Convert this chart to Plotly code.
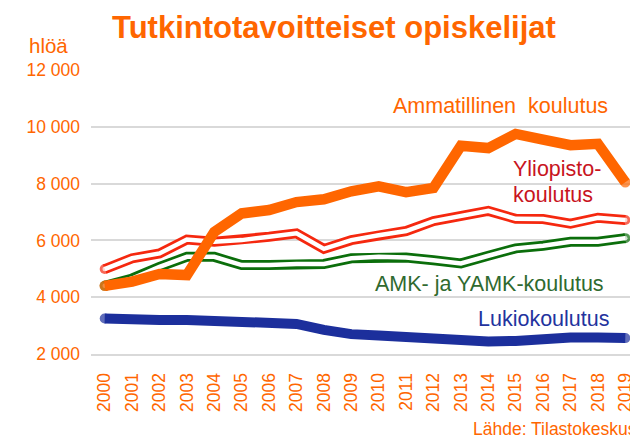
import plotly.graph_objects as go

years = [str(y) for y in range(2000, 2020)]
ammatillinen = [4400, 4550, 4820, 4780, 6300, 6950, 7070, 7350, 7450, 7730,
                7900, 7700, 7850, 9330, 9250, 9750, 9550, 9350, 9400, 8050]
yliopisto = [4990, 5370, 5540, 6030, 5950, 6010, 6130, 6250, 5700, 6010,
             6180, 6330, 6680, 6860, 7040, 6760, 6750, 6590, 6800, 6720]
amk = [4400, 4660, 5070, 5420, 5420, 5130, 5130, 5170, 5170, 5370,
       5420, 5400, 5300, 5190, 5460, 5720, 5810, 5950, 5950, 6080]
lukio = [3250, 3200, 3200, 3200, 3180, 3150, 3120, 3060, 2850, 2700,
         2650, 2580, 2500, 2490, 2440, 2460, 2540, 2580, 2580, 2560]
y_ticks = [2000, 4000, 6000, 8000, 10000, 12000]
y_tick_labels = ["2 000", "4 000", "6 000", "8 000", "10 000", "12 000"]

W, H = 638, 443
L, R, T, B = 83, 7, 62, 97
PW, PH = W - L - R, H - T - B

ORANGE = "#FF6600"
RED = "#F5280F"
GREEN = "#0B6E0B"
BLUE = "#1C2F9C"
FONT = "Liberation Sans, Arial, sans-serif"


def px(x):
    return (x - L) / PW


def py(y):
    return (H - B - y) / PH


def end_sizes(n, s):
    return [s] + [0] * (n - 2) + [s]


n = len(years)
fig = go.Figure()


def add_line(vals, color, width, name):
    fig.add_trace(go.Scatter(
        x=years, y=vals, mode="lines+markers", name=name,
        line=dict(color=color, width=width),
        marker=dict(color=color, size=end_sizes(n, width), line=dict(width=0)),
        hoverinfo="skip", showlegend=False))


add_line(lukio, BLUE, 10, "Lukiokoulutus")
add_line(yliopisto, RED, 10, "Yliopistokoulutus")
add_line(yliopisto, "white", 4.5, "Yliopistokoulutus")
add_line(amk, GREEN, 10, "AMK- ja YAMK-koulutus")
add_line(amk, "white", 4.5, "AMK- ja YAMK-koulutus")
add_line(ammatillinen, ORANGE, 10.5, "Ammatillinen koulutus")

ann = []


def text(s, x, y, size, color, xanchor="left", bold=False):
    ann.append(dict(text=f"<b>{s}</b>" if bold else s, x=px(x), y=py(y),
                    xref="paper", yref="paper", xanchor=xanchor,
                    yanchor="middle", showarrow=False,
                    font=dict(family=FONT, size=size, color=color)))


text("Tutkintotavoitteiset opiskelijat", 326, 19.5, 31, ORANGE,
     xanchor="center", bold=True)
text("hlöä", 19, 37, 20.5, ORANGE)
text("Ammatillinen&nbsp; koulutus", 383, 98, 21.5, ORANGE)
text("Yliopisto-", 503, 161, 21.5, "#C8141E")
text("koulutus", 503, 187, 21.5, "#C8141E")
text("AMK- ja YAMK-koulutus", 365, 276, 21.5, "#2F6A2F")
text("Lukiokoulutus", 468, 311, 21.5, "#23339E")
text("Lähde: Tilastokeskus", 463, 421, 17.5, ORANGE)

fig.update_layout(
    width=W, height=H,
    margin=dict(l=L, r=R, t=T, b=B, pad=0),
    paper_bgcolor="white", plot_bgcolor="white",
    annotations=ann,
    showlegend=False,
    xaxis=dict(type="category", range=[-0.5, 19.5], showgrid=False,
               zeroline=False, showline=True, linecolor="#D9D9D9",
               linewidth=2, tickangle=-90, ticks="",
               ticklabelstandoff=10,
               tickfont=dict(family=FONT, size=17.5, color=ORANGE)),
    yaxis=dict(range=[2000, 12000], tickvals=y_ticks, ticktext=y_tick_labels,
               showgrid=True, gridcolor="#D9D9D9", gridwidth=2,
               zeroline=False, showline=False, ticks="",
               ticklabelstandoff=10,
               tickfont=dict(family=FONT, size=17.5, color=ORANGE)),
)

fig.write_html("out.html")
